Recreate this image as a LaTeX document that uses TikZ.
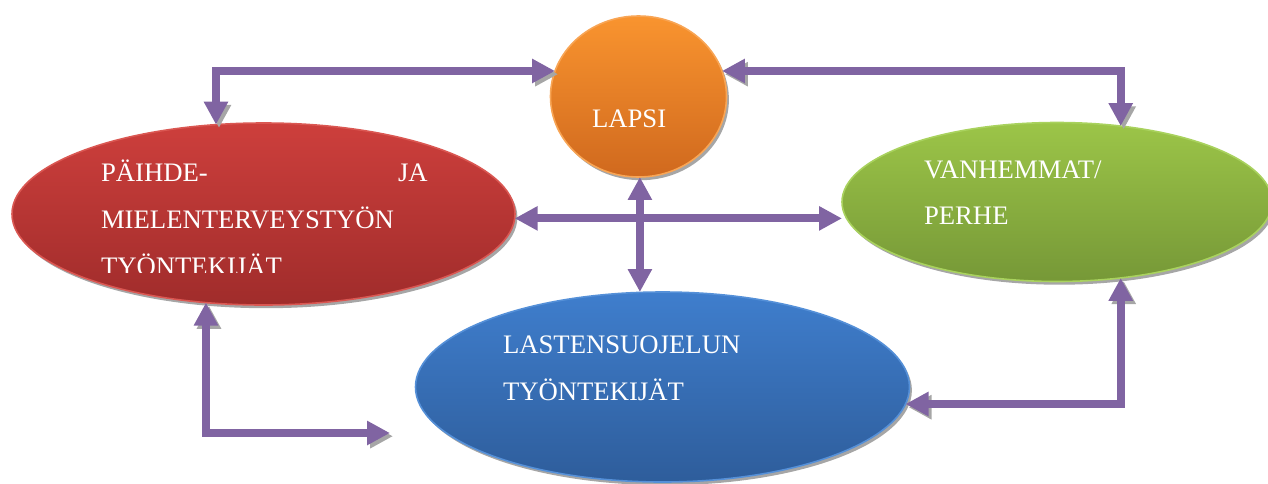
\documentclass[tikz,border=0pt]{standalone}
\usepackage{fontspec}
\setmainfont{Liberation Serif}
\usetikzlibrary{shapes.geometric,arrows.meta,shadows}
\definecolor{purp}{HTML}{8064A2}
\definecolor{shadowgray}{HTML}{A6A6A6}
\definecolor{orTop}{HTML}{F9942F}
\definecolor{orBot}{HTML}{D0691E}
\definecolor{orLine}{HTML}{F8A555}
\definecolor{rdTop}{HTML}{CD3F3C}
\definecolor{rdBot}{HTML}{A02C2B}
\definecolor{rdLine}{HTML}{DA5752}
\definecolor{gnTop}{HTML}{9CC548}
\definecolor{gnBot}{HTML}{769837}
\definecolor{gnLine}{HTML}{A9D25E}
\definecolor{blTop}{HTML}{3F7ECD}
\definecolor{blBot}{HTML}{2E5D9B}
\definecolor{blLine}{HTML}{5590D8}
\begin{document}
\begin{tikzpicture}[x=0.5pt,y=-0.5pt,
  blob/.style={ellipse,inner sep=0pt,outer sep=0pt,line width=0.8pt,
    shading=axis,shading angle=0,
    drop shadow={shadow xshift=1.2pt,shadow yshift=-1.6pt,fill=shadowgray,opacity=1}},
  lbl/.style={anchor=base west,inner sep=0pt,outer sep=0pt,text=white,
    font=\fontsize{13.35pt}{16pt}\selectfont},
  conn/.style={line width=4pt,draw=purp,
    {Triangle[width=11.5pt,length=11.5pt]}-{Triangle[width=11.5pt,length=11.5pt]}},
  sconn/.style={conn,
    preaction={draw=shadowgray,transform canvas={shift={(1.5pt,-1.6pt)}}}}]
\useasboundingbox (0,0) rectangle (1268,483);

% ellipses
\node[blob,draw=orLine,top color=orTop,bottom color=orBot,
  minimum width=176*0.5pt,minimum height=161*0.5pt] (lapsi) at (638.5,96.5) {};
\node[blob,draw=rdLine,top color=rdTop,bottom color=rdBot,
  minimum width=503*0.5pt,minimum height=182*0.5pt] (red) at (263.5,214) {};
\node[blob,draw=gnLine,top color=gnTop,bottom color=gnBot,
  minimum width=430*0.5pt,minimum height=159*0.5pt] (green) at (1057,202) {};
\node[blob,draw=blLine,top color=blTop,bottom color=blBot,
  minimum width=494*0.5pt,minimum height=190*0.5pt] (blue) at (662.5,387) {};

% texts
\node[lbl] (tlapsi) at (592,127) {LAPSI};
\node[lbl] (tred1) at (101,181) {PÄIHDE-};
\node[lbl] (tred1b) at (398,181) {JA};
\node[lbl] (tred2) at (101,228) {MIELENTERVEYSTYÖN};
\begin{scope}
  \clip (0,0) rectangle (1268,272);
  \node[lbl] (tred3) at (101,275) {TYÖNTEKIJÄT};
\end{scope}
\node[lbl] (tgreen1) at (924,178) {VANHEMMAT/};
\node[lbl] (tgreen2) at (924,224) {PERHE};
\node[lbl] (tblue1) at (503,353) {LASTENSUOJELUN};
\node[lbl] (tblue2) at (503,400) {TYÖNTEKIJÄT};

% connectors
\coordinate (bl) at (390,433);
\draw[sconn] (red.118.6) |- (lapsi.163);
\draw[sconn] (lapsi.17) -| (green.50.6);
\draw[conn] (red.-1) -- (red.-1 -| green.west);
\draw[conn] (lapsi.-89) -- (lapsi.-89 |- blue.north);
\draw[sconn] (red.237.5) |- (bl);
\draw[sconn] (green.-50.5) |- (blue.-4.4);
\end{tikzpicture}
\end{document}
